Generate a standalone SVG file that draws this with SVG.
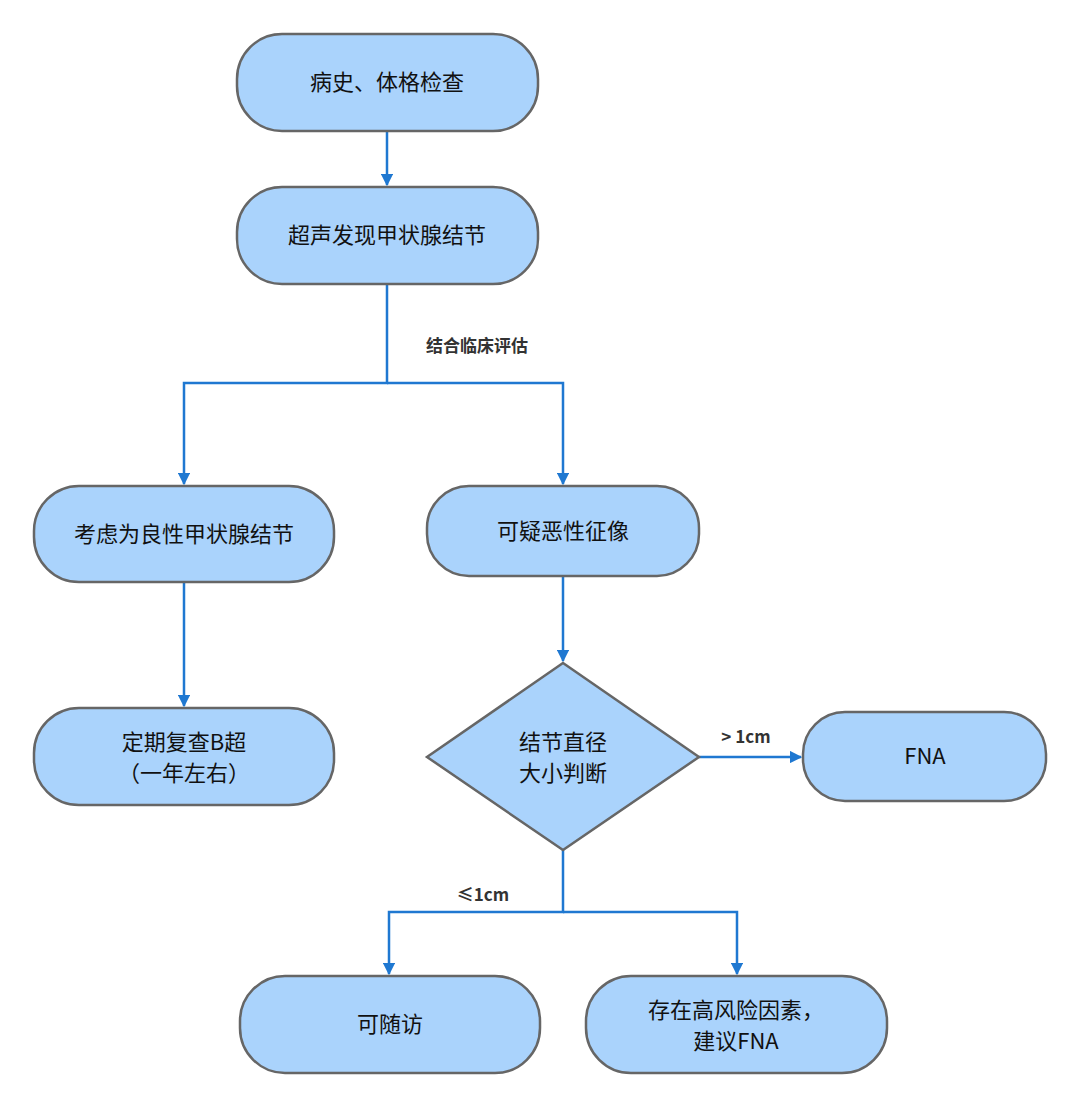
<svg xmlns="http://www.w3.org/2000/svg" width="1080" height="1107" viewBox="0 0 1080 1107">
<style>
.n{fill:#aad3fc;stroke:#666;stroke-width:2.5}
.t{font-family:"Noto Sans CJK SC","Liberation Sans",sans-serif;font-size:22px;fill:#111;text-anchor:middle}
.l{font-family:"Noto Sans CJK SC","Liberation Sans",sans-serif;font-size:17px;font-weight:bold;fill:#333;text-anchor:middle}
.c{fill:none;stroke:#1f78d1;stroke-width:2.5}
</style>
<defs><marker id="a" viewBox="0 0 10 10" refX="9" refY="5" markerWidth="5" markerHeight="5" orient="auto"><path d="M0,0L10,5L0,10z" fill="#1f78d1"/></marker></defs>
<rect width="1080" height="1107" fill="#fff"/>
<g id="connectors">
<path class="c" d="M387,131V185" marker-end="url(#a)"/>
<path class="c" d="M387,284V383H184V484" marker-end="url(#a)"/>
<path class="c" d="M387,383H563V484" marker-end="url(#a)"/>
<path class="c" d="M184,582V706" marker-end="url(#a)"/>
<path class="c" d="M563,576V661" marker-end="url(#a)"/>
<path class="c" d="M699,757H801" marker-end="url(#a)"/>
<path class="c" d="M563,850V912H389V974" marker-end="url(#a)"/>
<path class="c" d="M563,912H737V974" marker-end="url(#a)"/>
<text class="l" x="477" y="352">结合临床评估</text>
<text class="l" x="746" y="743">&gt; 1cm</text>
<text class="l" x="483" y="901">≤1cm</text>
</g>
<g id="n1"><rect class="n" x="237" y="34" width="301" height="97" rx="45"/><text class="t" x="387" y="90">病史、体格检查</text></g>
<g id="n2"><rect class="n" x="237" y="187" width="301" height="97" rx="45"/><text class="t" x="387" y="243">超声发现甲状腺结节</text></g>
<g id="n3"><rect class="n" x="34" y="486" width="300" height="96" rx="45"/><text class="t" x="184" y="542">考虑为良性甲状腺结节</text></g>
<g id="n4"><rect class="n" x="427" y="486" width="272" height="90" rx="42"/><text class="t" x="563" y="539">可疑恶性征像</text></g>
<g id="n5"><rect class="n" x="34" y="708" width="300" height="97" rx="45"/><text class="t" x="184" y="750">定期复查B超</text><text class="t" x="184" y="781">（一年左右）</text></g>
<g id="n6"><polygon class="n" points="563,663 699,757 563,850 427,757"/><text class="t" x="563" y="750">结节直径</text><text class="t" x="563" y="781">大小判断</text></g>
<g id="n7"><rect class="n" x="803" y="712" width="243" height="89" rx="42"/><text class="t" x="925" y="764">FNA</text></g>
<g id="n8"><rect class="n" x="240" y="976" width="300" height="97" rx="45"/><text class="t" x="390" y="1032">可随访</text></g>
<g id="n9"><rect class="n" x="586" y="976" width="301" height="97" rx="45"/><text class="t" x="736" y="1018">存在高风险因素，</text><text class="t" x="736" y="1049">建议FNA</text></g>
</svg>
